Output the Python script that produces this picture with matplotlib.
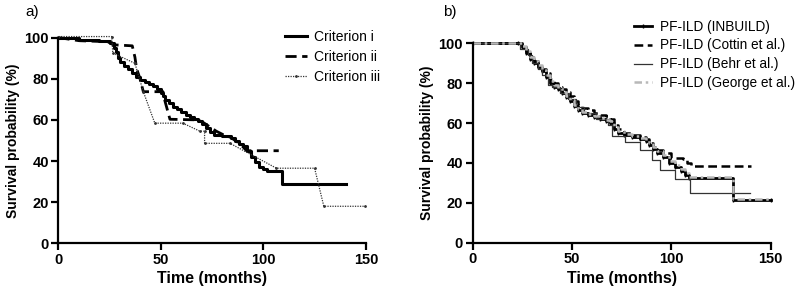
import matplotlib.pyplot as plt

plt.rcParams['font.family'] = ['Liberation Sans', 'DejaVu Sans']

# ---- panel a: survival by criterion ----
crit1_t = [0, 10, 20, 25, 27, 28, 29, 30, 32, 34, 36, 38, 40, 42, 44, 46, 48, 50, 51,
           52, 54, 56, 58, 60, 62, 64, 66, 68, 70, 72, 74, 76, 80, 84, 86, 88, 90, 92,
           94, 96, 98, 100, 102, 109, 140.5]
crit1_s = [100, 99, 98.5, 97.5, 95, 93, 90, 88, 86, 84.5, 83, 81, 79.5, 78.5, 77.5, 76.5,
           75, 73, 71.5, 69.5, 68, 66.5, 65.5, 64, 62.5, 61.5, 60.5, 59.5, 58, 56, 54,
           52.5, 52, 51, 49.5, 48.5, 47.5, 45, 42, 39.5, 37, 36, 35, 29, 29]

crit2_t = [0, 10, 24, 26.7, 36, 37.3, 38.1, 39.8, 41.4, 51, 52, 54.4, 68, 71, 74, 77,
           80, 84, 87, 89, 91.8, 107.5]
crit2_s = [100, 98.5, 98, 96.5, 96, 90.5, 85, 80, 73.7, 73.7, 69, 60.3, 60, 58.5, 56.5,
           54.5, 53, 51.5, 49.5, 48, 45, 45]

crit3_t = [0, 26, 26.5, 37.3, 41.4, 47, 60.7, 69, 71.3, 71.3, 83.7, 106.4, 125, 129.5, 149.5]
crit3_s = [100.5, 100.5, 92.5, 87.5, 73.7, 58.4, 58.4, 54.5, 54.5, 48.6, 48.6, 36.5, 36.5,
           18, 18]

# ---- panel b: PF-ILD definitions ----
inb_t = [0, 23, 25, 27, 29, 31, 33, 35, 37, 39, 41, 43, 45, 47, 49, 51, 53, 55, 58, 61,
         64, 67, 69, 71, 73, 76, 80, 84, 87, 89, 91, 93, 96, 99, 102, 105, 107, 109, 131, 150]
inb_s = [100, 100, 98, 95, 92, 90, 88, 86, 83, 80, 78, 77, 75, 73, 71, 68.5, 66.5, 65,
         64, 63, 62, 61, 60, 57, 55, 54, 53, 52, 51, 49, 47, 45, 43, 40, 38, 36, 34,
         32.3, 21.4, 21.4]

cot_t = [0, 23, 25, 27, 29, 31, 33, 35, 37, 39, 41, 43, 45, 47, 49, 51, 53, 55, 58, 61,
         64, 67, 69, 71, 73, 76, 80, 84, 87, 89, 91, 93, 96, 100, 106, 108, 110, 140]
cot_s = [100, 100, 98, 95.5, 93, 91, 89, 87, 85, 82, 80, 78, 77, 75.5, 73.5, 71, 69,
         67.5, 66.5, 65, 64, 63.5, 62, 59, 57, 55, 54, 53, 52, 50, 48, 46.5, 45, 42.5,
         42, 40, 38.5, 38.5]

behr_t = [0, 24, 28, 30, 33, 35, 38, 40, 44, 48, 52, 56, 62, 68, 70, 76.5, 84.4, 90.4,
          94.5, 101.7, 109.5, 139.7]
behr_s = [100, 97, 94, 90, 87, 84, 79, 78, 75, 72, 68, 65, 62, 59, 53.5, 50.5, 46.5,
          41.5, 36.5, 31.8, 25, 25]

geo_t = [0, 23, 25, 27, 29, 31, 33, 35, 37, 39, 41, 43, 45, 47, 49, 51, 53, 55, 58, 61,
         64, 67, 69, 71, 73, 76, 80, 84, 87, 89, 91, 93, 96, 99, 102, 105, 107, 109, 131, 150]
geo_s = [100, 100, 98.5, 96, 93, 91, 89, 86.5, 84, 81, 79, 77.5, 75.5, 73.5, 71.5, 69,
         67, 65.5, 64.5, 63.5, 62.5, 61.5, 61, 58, 56, 54.5, 53.5, 52.5, 51.5, 50, 48,
         46, 44, 41, 39, 37, 35, 33, 21.8, 21.8]

x_ticks = [0, 50, 100, 150]
y_ticks = [0, 20, 40, 60, 80, 100]


def style_axes(ax):
    ax.set_xlim(0, 150)
    ax.set_ylim(0, 100)
    ax.set_xticks(x_ticks, labels=[str(v) for v in x_ticks], fontweight='bold', fontsize=10.5)
    ax.set_yticks(y_ticks, labels=[str(v) for v in y_ticks], fontweight='bold', fontsize=10.5)
    for s in ['top', 'right']:
        ax.spines[s].set_visible(False)
    for s in ['left', 'bottom']:
        ax.spines[s].set_linewidth(1.6)
    ax.tick_params(width=1.6, length=5, pad=2)
    ax.set_xlabel('Time (months)', fontsize=11.5, fontweight='bold', labelpad=3)
    ax.set_ylabel('Survival probability (%)', fontsize=10, fontweight='bold', labelpad=3)


fig = plt.figure(figsize=(7.97, 2.96), dpi=100)
ax1 = fig.add_axes([0.0734, 0.178, 0.3856, 0.695])
ax2 = fig.add_axes([0.593, 0.180, 0.374, 0.674])

ax1.plot(crit1_t, crit1_s, color='black', lw=2.2, drawstyle='steps-post',
         clip_on=False, label='Criterion i')
ax1.plot(crit2_t, crit2_s, color='black', lw=2.0, ls=(0, (4, 2)), clip_on=False,
         label='Criterion ii')
ax1.plot(crit3_t, crit3_s, color='#333333', lw=0.9, ls=(0, (1, 1)), marker='.',
         markersize=2, clip_on=False, label='Criterion iii')
style_axes(ax1)
ax1.legend(loc='upper left', bbox_to_anchor=(0.695, 1.10), frameon=False, fontsize=10,
           handlelength=1.6, handletextpad=0.5, labelspacing=0.45)

ax2.plot(inb_t, inb_s, color='black', lw=2.0, drawstyle='steps-post', marker='|',
         markersize=3, clip_on=False, label='PF-ILD (INBUILD)')
ax2.plot(cot_t, cot_s, color='black', lw=1.8, ls=(0, (3.5, 1.8)),
         drawstyle='steps-post', clip_on=False, label='PF-ILD (Cottin et al.)')
ax2.plot(behr_t, behr_s, color='#333333', lw=0.9, drawstyle='steps-post',
         clip_on=False, label='PF-ILD (Behr et al.)')
ax2.plot(geo_t, geo_s, color='#b8b8b8', lw=1.8, ls=(0, (3, 1.5, 1, 1.5)),
         drawstyle='steps-post', clip_on=False, label='PF-ILD (George et al.)')
style_axes(ax2)
ax2.legend(loc='upper left', bbox_to_anchor=(0.50, 1.18), frameon=False, fontsize=9.8,
           handlelength=1.3, handletextpad=0.6, labelspacing=0.36)

fig.text(32 / 797, 1 - 12 / 296, 'a)', fontsize=11, ha='center', va='center')
fig.text(450 / 797, 1 - 12 / 296, 'b)', fontsize=11, ha='center', va='center')

fig.savefig('out.png', dpi=100)
